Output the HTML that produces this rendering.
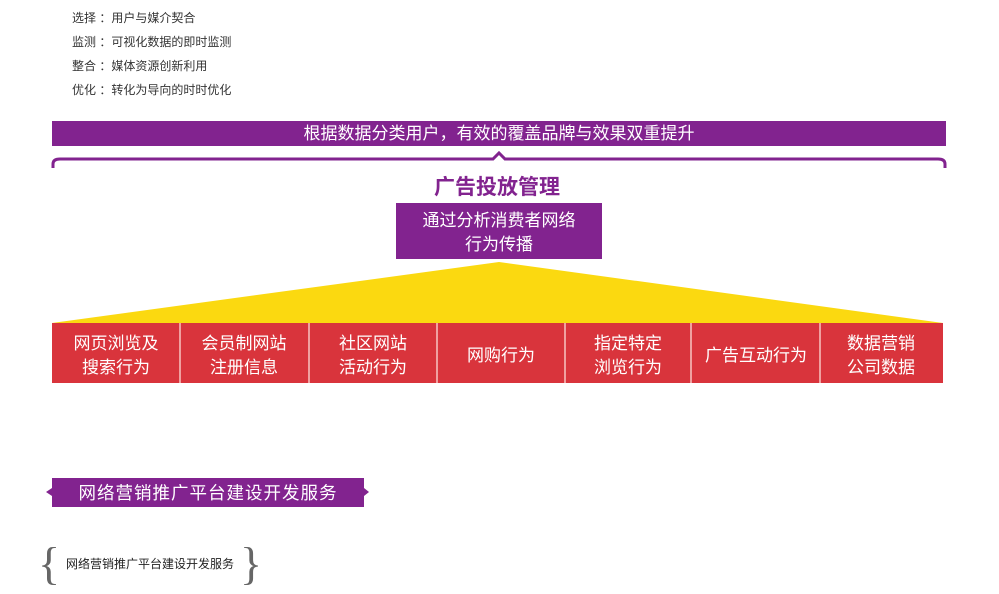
<!DOCTYPE html>
<html><head><meta charset="utf-8"><style>
body{margin:0;background:#fff;}
svg{display:block;font-family:"Liberation Sans","Noto Sans CJK SC",sans-serif;}
</style></head><body>
<svg width="999" height="594" viewBox="0 0 999 594">
<g font-size="12" fill="#333">
<text x="72" y="22">选择 ：用户与媒介契合</text>
<text x="72" y="46">监测 ：可视化数据的即时监测</text>
<text x="72" y="70">整合 ：媒体资源创新利用</text>
<text x="72" y="94">优化 ：转化为导向的时时优化</text>
</g>
<rect x="52" y="121" width="894" height="25" fill="#82238f"/>
<text x="499" y="139" font-size="17" fill="#fff" text-anchor="middle">根据数据分类用户，有效的覆盖品牌与效果双重提升</text>
<path d="M53 168 L53 164 Q53 159 60 159 L493 159 L499 153 L505 159 L938 159 Q945 159 945 164 L945 168" fill="none" stroke="#82238f" stroke-width="3"/>
<text x="497" y="194" font-size="21" font-weight="bold" fill="#82238f" text-anchor="middle">广告投放管理</text>
<rect x="396" y="203" width="206" height="56" fill="#82238f"/>
<text x="499" y="226" font-size="17" fill="#fff" text-anchor="middle">通过分析消费者网络</text>
<text x="499" y="250" font-size="17" fill="#fff" text-anchor="middle">行为传播</text>
<polygon points="499,262 52,323 943,323" fill="#fbd910"/>
<rect x="52" y="323" width="891" height="60" fill="#d9343c"/>
<g stroke="#f0a0a0" stroke-width="2">
<line x1="180" y1="323" x2="180" y2="383"/><line x1="309" y1="323" x2="309" y2="383"/>
<line x1="437" y1="323" x2="437" y2="383"/><line x1="565" y1="323" x2="565" y2="383"/>
<line x1="691" y1="323" x2="691" y2="383"/><line x1="820" y1="323" x2="820" y2="383"/>
</g>
<g font-size="17" fill="#fff" text-anchor="middle">
<text x="116" y="349">网页浏览及</text><text x="116" y="373">搜索行为</text>
<text x="244" y="349">会员制网站</text><text x="244" y="373">注册信息</text>
<text x="373" y="349">社区网站</text><text x="373" y="373">活动行为</text>
<text x="501" y="361">网购行为</text>
<text x="628" y="349">指定特定</text><text x="628" y="373">浏览行为</text>
<text x="756" y="361">广告互动行为</text>
<text x="881" y="349">数据营销</text><text x="881" y="373">公司数据</text>
</g>
<polygon points="52,478 364,478 364,488 369,492 364,496 364,507 52,507 52,496 46,492 52,488" fill="#82238f"/>
<text x="208" y="499" font-size="17.5" fill="#fff" text-anchor="middle" letter-spacing="1">网络营销推广平台建设开发服务</text>
<text x="38" y="579" font-size="46" fill="#666" font-family="Liberation Serif,serif">{</text>
<text x="240" y="579" font-size="46" fill="#666" font-family="Liberation Serif,serif">}</text>
<text x="66" y="568" font-size="12" fill="#222">网络营销推广平台建设开发服务</text>
</svg>
</body></html>
